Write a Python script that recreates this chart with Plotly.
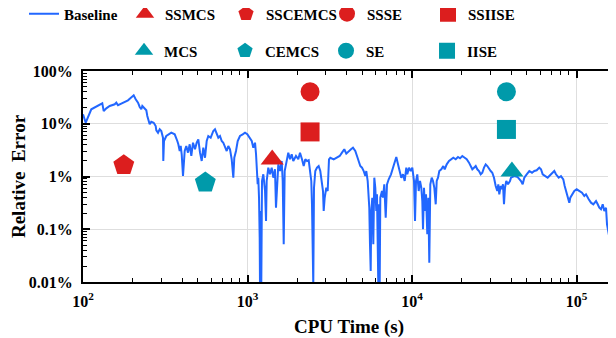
import plotly.graph_objects as go

# ---------------- data ----------------
cpu_time = [
    100, 103.9, 112.3, 117.8, 123.4, 129.2, 131.0, 133.6, 138.6, 145.3,
    155.9, 159.4, 163.2, 170.9, 179.3, 187.7, 194.0, 199.4, 203.3, 209.1,
    216.0, 221.2, 226.2, 229.4, 237.2, 242.6, 246.0, 250.9, 254.3, 260.1,
    269.0, 276.6, 279.1, 285.8, 292.6, 299.2, 303.5, 306.4, 307.7, 310.7,
    320.9, 333.3, 344.2, 361.0, 369.2, 374.4, 379.7, 387.2, 392.6, 398.1,
    405.4, 415.1, 424.6, 434.8, 445.3, 455.4, 466.4,
    479.6, 491.2, 502.3, 514.4, 526.8, 538.7, 551.7, 564.9, 577.7, 597.4,
    619.6, 634.5, 649.8, 664.5, 680.5, 696.9, 712.7, 729.8, 747.4, 764.3,
    782.7, 801.6, 812.9, 819.8, 831.3, 851.3, 871.8, 900.3, 935.0, 965.6,
    997.2, 1035, 1061, 1085, 1111, 1127, 1137, 1153, 1163, 1175,
    1186, 1191, 1203, 1213, 1225, 1248, 1278, 1296, 1308, 1338,
    1370, 1403, 1435, 1469, 1490, 1518, 1539, 1576, 1614, 1637,
    1660, 1683, 1730, 1770, 1813, 1856, 1898, 1971, 2036, 2085,
    2144, 2196, 2246, 2300, 2355, 2408, 2442, 2466, 2490, 2511,
    2536, 2583, 2645, 2708, 2770, 2837, 2877, 2905, 2946, 3013,
    3072, 3129, 3186, 3342, 3499, 3634, 3753, 3876, 3986, 4122,
    4257, 4378, 4521, 4630, 4741, 4849, 4966, 5085, 5201, 5274,
    5378, 5454, 5500, 5554, 5609, 5656, 5736, 5817, 5899, 5982,
    6066, 6126, 6186, 6238, 6300, 6362, 6416, 6570, 6663, 6785,
    6920, 7047, 7217, 7453, 7664, 7849, 8027, 8220, 8415, 8606,
    8817, 9028, 9233,
    9363, 9589, 9820, 10042, 10284, 10429, 10576, 10770, 10983, 11184,
    11390, 11551, 11665, 11829, 11996, 12165, 12388, 12563, 12740, 12920,
    13176, 13418, 13665, 13936, 14131, 14391, 14655, 15071, 15499, 15806,
    16255, 16787, 17336, 17828, 18438, 19041, 19581, 20221, 20913, 21505,
    22209, 22744, 23258, 23818, 24391, 24943, 25544, 26159, 26751, 27394,
    28054, 28689, 29380, 30087, 30768, 31508, 32266, 32996, 33461, 33933,
    34605, 35092, 35736, 36240, 36750, 37425, 38327, 39415,
    39971, 41860, 43900, 45980, 47087, 48153, 49799, 51645, 53632, 55387,
    57278, 59400, 60828, 62293, 64600, 66810, 68320, 70950, 73270, 75040,
    77930, 80480, 83110, 84760, 86320, 88400, 90400, 91680, 93890, 96970,
    100280, 103990, 108000, 111530, 114220, 118620, 122510, 126520, 131390, 134560,
    137600, 140910, 144310, 147580, 151130, 153260, 156080, 159840, 162770, 164370,
]

baseline_err_pct = [
    15.1, 10.47, 18.8, 20.2, 21.7, 23.4, 24.4, 17.4, 19.6, 21.7,
    23.4, 25.1, 22.4, 24.0, 25.8, 27.8, 30.4, 33.6, 34.6, 29.1,
    25.1, 20.8, 18.8, 21.7, 19.6, 18.0, 14.0, 11.3, 9.76, 10.9,
    10.47, 9.07, 7.51, 6.77, 7.85, 7.29, 6.31, 5.44, 1.97, 4.71,
    5.86, 6.31, 6.77, 6.31, 5.44, 4.71, 4.08, 3.04, 3.79, 2.64,
    1.02, 3.04, 3.79, 2.83, 4.08, 2.45, 4.37,
    3.28, 4.37, 5.07, 2.83, 1.97, 3.52, 2.27, 4.71, 5.86, 5.44,
    7.29, 7.85, 6.31, 5.44, 5.86, 4.71, 4.37, 3.52, 3.04, 3.79,
    3.28, 2.12, 1.47, 0.949, 2.27, 3.04, 4.71, 5.86, 6.31, 6.77,
    6.31, 5.44, 4.71, 3.52, 4.37, 2.64, 1.27, 0.711, 0.949, 0.396,
    0.0692, 0.009, 0.222, 0.009, 0.822, 1.10, 0.531, 0.143, 0.822, 1.47,
    1.10, 1.47, 0.949, 1.37, 0.256, 0.949, 1.70, 1.27, 1.97, 0.822,
    0.0518, 1.27, 1.97, 2.83, 2.12, 2.64, 1.97, 2.45, 2.12, 2.83,
    2.12, 1.58, 2.12, 1.97, 2.03, 1.27, 0.822, 0.297, 0.0335, 0.009,
    0.613, 1.27, 1.47, 1.58, 1.27, 0.711, 0.531, 0.222, 0.396, 0.613,
    0.531, 2.12, 2.27, 2.12, 2.27, 2.45, 2.83, 3.28, 2.71, 3.04,
    3.28, 3.52, 3.04, 2.45, 1.97, 1.58, 1.47, 1.27, 1.02, 1.27,
    0.822, 0.460, 0.256, 0.0518, 0.0162, 0.222, 0.396, 0.0518, 0.949, 0.613,
    0.222, 0.460, 0.0162, 0.009, 0.297, 0.009, 0.396, 0.531, 0.396, 0.711,
    0.166, 0.711, 0.885, 1.10, 1.47, 1.97, 2.34, 1.70, 1.27, 0.949,
    1.10, 0.822, 1.47,
    1.10, 1.47, 1.27, 1.47, 0.822, 0.143, 0.822, 1.10, 0.531, 0.822,
    0.613, 0.343, 0.0998, 0.613, 0.222, 0.460, 0.0802, 0.396, 0.0232, 0.711,
    0.949, 0.822, 0.613, 0.297, 0.822, 0.949, 1.27, 1.37, 1.58, 1.37,
    1.70, 1.97, 2.12, 2.27, 2.12, 2.34, 2.21, 2.45, 2.27, 2.12,
    1.83, 1.58, 1.37, 1.47, 1.58, 1.37, 1.27, 1.10, 1.18, 1.47,
    1.70, 1.58, 1.37, 1.27, 1.18, 0.949, 0.660, 0.531, 0.711, 0.460,
    0.660, 0.572, 0.711, 0.297, 0.613, 0.822, 0.711, 0.822,
    0.949, 1.02, 0.978, 0.822, 0.711, 0.949, 1.10, 1.27, 1.18, 1.27,
    1.31, 1.47, 1.37, 1.10, 1.02, 0.949, 1.02, 1.18, 1.27, 1.10,
    0.949, 1.02, 0.885, 0.660, 0.531, 0.396, 0.319, 0.396, 0.460, 0.531,
    0.572, 0.531, 0.493, 0.427, 0.460, 0.370, 0.319, 0.297, 0.343, 0.297,
    0.256, 0.239, 0.297, 0.222, 0.256, 0.124, 0.0927, 0.0599, 0.0289, 0.009,
]

method_names = ["SSMCS", "SSCEMCS", "SSSE", "SSIISE", "MCS", "CEMCS", "SE", "IISE"]
method_time = [1413, 177, 2400, 2400, 40500, 554, 37500, 37500]
method_err_pct = [2.1, 1.64, 40.5, 7.0, 1.25, 0.77, 40.5, 7.8]

x_tick_vals = [1e2, 1e3, 1e4, 1e5]
x_tick_text = ["10<sup>2</sup>", "10<sup>3</sup>", "10<sup>4</sup>", "10<sup>5</sup>"]
y_tick_vals = [0.01, 0.1, 1, 10, 100]
y_tick_text = ["0.01%", "0.1%", "1%", "10%", "100%"]

# ---------------- styling ----------------
SERIF = "Liberation Serif, Times New Roman, serif"
RED = "#dc1e1e"
TEAL = "#009aaa"
BLUE = "#2267ff"

symbols = ["triangle-up", "pentagon", "circle", "square"] * 2
colors = [RED] * 4 + [TEAL] * 4
sizes = [20, 22, 19, 19] * 2
legends = ["legend"] * 4 + ["legend2"] * 4

fig = go.Figure()
fig.add_trace(go.Scatter(
    x=cpu_time, y=baseline_err_pct, mode="lines", name="Baseline",
    line=dict(color=BLUE, width=2), legend="legend",
))
for name, t, e, sym, col, sz, leg in zip(method_names, method_time, method_err_pct,
                                         symbols, colors, sizes, legends):
    fig.add_trace(go.Scatter(
        x=[t], y=[e], mode="markers", name=name, legend=leg,
        marker=dict(symbol=sym, color=col, size=sz, line=dict(width=0)),
    ))

minor_x = [m * 10 ** k for k in range(2, 6) for m in range(2, 10)]
minor_y = [m * 10.0 ** k for k in range(-2, 2) for m in range(2, 10)]

tickfont = dict(family=SERIF, size=16, color="black", weight="bold")
axis_common = dict(
    type="log", showline=True, linecolor="black", linewidth=2, mirror="ticks",
    ticks="inside", ticklen=7, tickwidth=1.5, tickcolor="black",
    showgrid=True, gridcolor="#dedede", gridwidth=1, zeroline=False,
    tickfont=tickfont, tickmode="array",
)

# The page body has an 8 px default margin, so the figure is 8 px smaller
# than the 616x338 window and its margins are shifted accordingly.
fig.update_layout(
    width=608, height=330,
    margin=dict(l=75, r=1, t=63, b=56, autoexpand=False),
    paper_bgcolor="white", plot_bgcolor="white",
    font=dict(family=SERIF, color="black"),
    xaxis=dict(
        **axis_common, range=[2, 5.234],
        tickvals=x_tick_vals, ticktext=x_tick_text, ticklabelstandoff=4,
        minor=dict(tickmode="array", tickvals=minor_x, ticks="inside", ticklen=4,
                   tickcolor="black", tickwidth=1.2, showgrid=False),
        title=dict(text="CPU Time (s)", standoff=11,
                   font=dict(family=SERIF, size=19, color="black", weight="bold")),
        automargin=False,
    ),
    yaxis=dict(
        **axis_common, range=[-2, 2],
        tickvals=y_tick_vals, ticktext=y_tick_text, ticklabelstandoff=5,
        minor=dict(tickmode="array", tickvals=minor_y, ticks="inside", ticklen=4,
                   tickcolor="black", tickwidth=1.2, showgrid=False),
        title=dict(text="Relative  Error", standoff=1,
                   font=dict(family=SERIF, size=19, color="black", weight="bold")),
        automargin=False,
    ),
    legend=dict(
        orientation="h", x=-0.1109, y=1.3488, xanchor="left", yanchor="top",
        entrywidth=56, entrywidthmode="pixels", bgcolor="rgba(0,0,0,0)",
        font=dict(family=SERIF, size=15, color="black", weight="bold"),
        itemsizing="trace",
    ),
    legend2=dict(
        orientation="h", x=0.0771, y=1.1735, xanchor="left", yanchor="top",
        entrywidth=56, entrywidthmode="pixels", bgcolor="rgba(0,0,0,0)",
        font=dict(family=SERIF, size=15, color="black", weight="bold"),
        itemsizing="trace",
    ),
    showlegend=True,
)

fig.write_html("out.html")
